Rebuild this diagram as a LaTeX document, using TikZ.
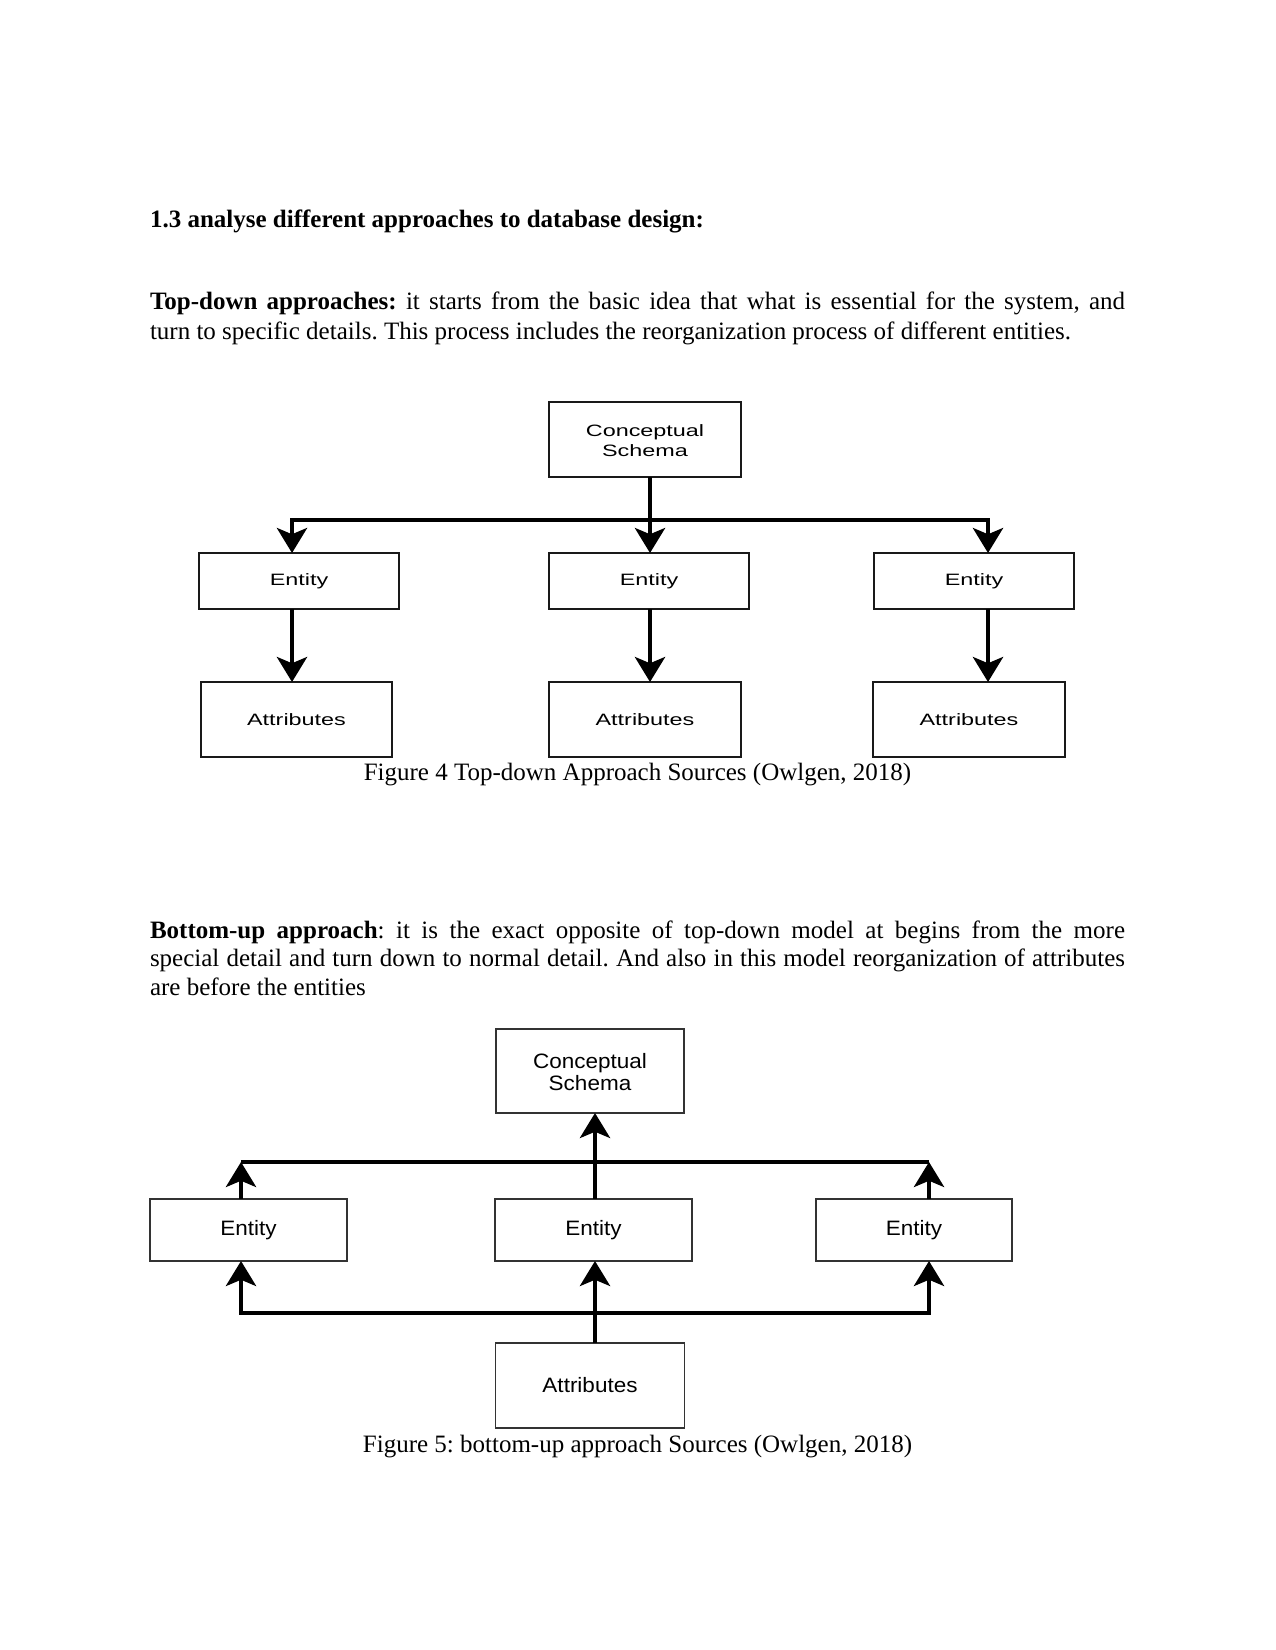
\documentclass[tikz,border=0pt]{standalone}
\usepackage{fontspec}
\usepackage{graphicx}
\setmainfont{Liberation Serif}
\newfontfamily\boxfont{Liberation Sans}
\usetikzlibrary{arrows.meta}
\newcommand{\topwide}[1]{\scalebox{1.42}[1]{#1}}
\newcommand{\botwide}[1]{\scalebox{1.08}[1]{#1}}
\frenchspacing
\begin{document}
\begin{tikzpicture}[x=0.48pt,y=-0.48pt,
  boxA/.style={draw=black!90,line width=0.5pt,inner sep=0pt,outer sep=0pt,font=\boxfont\fontsize{7.9}{9.6}\selectfont},
  boxB/.style={draw=black!80,line width=0.5pt,inner sep=0pt,outer sep=0pt,font=\boxfont\fontsize{10}{10.5}\selectfont},
  conn/.style={line width=1.9pt,-{Stealth[length=12pt,width=14.5pt,inset=3pt]}},
  link/.style={line width=1.9pt},
  body/.style={inner sep=0pt,outer sep=0pt,font=\fontsize{12}{13.9}\selectfont}]
\useasboundingbox[fill=white] (0,0) rectangle (1275,1650);

% ---- text ----
\node[body,anchor=base west,font=\fontsize{12}{13.9}\selectfont\bfseries] (h) at (150,228) {1.3 analyse different approaches to database design:};
\node[body,anchor=base west,text width=468pt,align=justify,font=\fontsize{12}{14.3}\selectfont] (p1) at (150,310)
 {\textbf{Top-down approaches:} it starts from the basic idea that what is essential for the system, and\linebreak turn to specific details. This process includes the reorganization process of different entities.};
\node[body,anchor=base] (c1) at (637.5,780) {Figure 4 Top-down Approach Sources (Owlgen, 2018)};
\node[body,anchor=base west,text width=468pt,align=justify] (p2) at (150,938)
 {\textbf{Bottom-up approach}: it is the exact opposite of top-down model at begins from the more\linebreak special detail and turn down to normal detail. And also in this model reorganization of attributes\linebreak are before the entities};
\node[body,anchor=base] (c2) at (637.5,1452) {Figure 5: bottom-up approach Sources (Owlgen, 2018)};

% ---- top-down diagram ----
\node[boxA,minimum width=192*0.48pt,minimum height=75*0.48pt] (cs1) at (645,439.5) {\raisebox{-1.4pt}[\height][\depth]{\topwide{\begin{tabular}{@{}c@{}}Conceptual\\Schema\end{tabular}}}};
\node[boxA,minimum width=200*0.48pt,minimum height=56*0.48pt] (e1) at (299,581) {\topwide{Entity}};
\node[boxA,minimum width=200*0.48pt,minimum height=56*0.48pt] (e2) at (649,581) {\topwide{Entity}};
\node[boxA,minimum width=200*0.48pt,minimum height=56*0.48pt] (e3) at (974,581) {\topwide{Entity}};
\node[boxA,minimum width=191*0.48pt,minimum height=75*0.48pt] (a1) at (296.5,719.5) {\topwide{Attributes}};
\node[boxA,minimum width=192*0.48pt,minimum height=75*0.48pt] (a2) at (645,719.5) {\topwide{Attributes}};
\node[boxA,minimum width=192*0.48pt,minimum height=75*0.48pt] (a3) at (969,719.5) {\topwide{Attributes}};

\coordinate (xl) at (292,0);
\coordinate (xm) at (650,0);
\coordinate (xr) at (988,0);
\coordinate (ybar) at (0,520);

\draw[conn] (cs1.south -| xm) -- (e2.north -| xm);
\draw[conn] (xm |- ybar) -| (e1.north -| xl);
\draw[conn] (xm |- ybar) -| (e3.north -| xr);
\draw[conn] (e1.south -| xl) -- (a1.north -| xl);
\draw[conn] (e2.south -| xm) -- (a2.north -| xm);
\draw[conn] (e3.south -| xr) -- (a3.north -| xr);

% ---- bottom-up diagram ----
\node[boxB,minimum width=188*0.48pt,minimum height=84*0.48pt] (cs2) at (590,1071) {\raisebox{-1.9pt}[\height][\depth]{\botwide{\begin{tabular}{@{}c@{}}Conceptual\\Schema\end{tabular}}}};
\node[boxB,minimum width=197*0.48pt,minimum height=62*0.48pt] (e4) at (248.5,1230) {\botwide{Entity}};
\node[boxB,minimum width=197*0.48pt,minimum height=62*0.48pt] (e5) at (593.5,1230) {\botwide{Entity}};
\node[boxB,minimum width=196*0.48pt,minimum height=62*0.48pt] (e6) at (914,1230) {\botwide{Entity}};
\node[boxB,minimum width=189*0.48pt,minimum height=85*0.48pt] (at2) at (590,1385.5) {\botwide{Attributes}};

\coordinate (bl) at (241,0);
\coordinate (bm) at (595,0);
\coordinate (br) at (929,0);
\coordinate (yu) at (0,1162);
\coordinate (yd) at (0,1313);

\draw[conn] (e5.north -| bm) -- (cs2.south -| bm);
\draw[link] (bl |- yu) -- (br |- yu);
\draw[conn] (e4.north -| bl) -- (bl |- yu);
\draw[conn] (e6.north -| br) -- (br |- yu);
\draw[conn] (at2.north -| bm) -- (e5.south -| bm);
\draw[conn] (bm |- yd) -| (e4.south -| bl);
\draw[conn] (bm |- yd) -| (e6.south -| br);
\end{tikzpicture}
\end{document}
